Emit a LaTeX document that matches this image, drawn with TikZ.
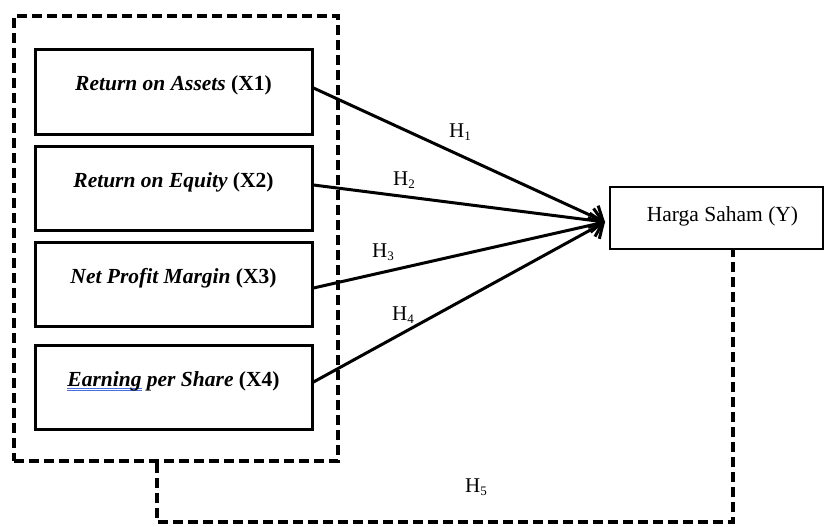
\documentclass[tikz,border=0pt]{standalone}
\usepackage{fontspec}
\setmainfont{Liberation Serif}
\usetikzlibrary{arrows.meta}
\definecolor{ulblue}{RGB}{70,110,220}
\newcommand{\spellul}[1]{\sbox0{#1}\rlap{\color{ulblue}\rule[-3pt]{\wd0}{0.9pt}}\rlap{\color{ulblue}\rule[-5pt]{\wd0}{0.9pt}}\usebox0}
\newcommand{\hsub}[1]{H\raisebox{-2.5pt}{\fontsize{13}{13}\selectfont #1}}
\tikzset{
  varbox/.style={draw, line width=3pt, minimum width=277pt, minimum height=84pt,
    text height=15pt, text depth=17pt, font=\fontsize{21.5}{24}\selectfont\bfseries, inner sep=0pt},
  ybox/.style={draw, line width=2.8pt, minimum width=213pt, minimum height=62pt,
    font=\fontsize{21.5}{24}\selectfont, text height=15pt, text depth=9pt, inner sep=0pt},
  grpbox/.style={draw, line width=3.2pt, dash pattern=on 10pt off 5pt, minimum width=324pt, minimum height=445pt, inner sep=0pt},
  dashline/.style={line width=3.2pt, dash pattern=on 10pt off 5pt},
  arr/.style={line width=3pt, -{Straight Barb[length=11pt,width=24pt,line width=3pt]}},
  hlab/.style={font=\fontsize{21}{24}\selectfont, inner sep=0pt}
}
\begin{document}
\begin{tikzpicture}[x=1pt,y=-1pt]
\useasboundingbox[fill=white] (0,0) rectangle (825,527);
\node[grpbox] (grp) at (176,238.5) {};
\node[varbox] (b1) at (173.5,92) {\itshape Return on Assets\/ \upshape(X1)};
\node[varbox] (b2) at (173.5,188) {\itshape Return on Equity\/ \upshape(X2)};
\node[varbox] (b3) at (173.5,284.5) {\itshape Net Profit Margin\/ \upshape(X3)};
\node[varbox] (b4) at (173.5,387) {\itshape\spellul{Earning} per Share\/ \upshape(X4)};
\node[ybox] (y) at (716.5,218) {\hspace*{12pt}Harga Saham (Y)};
\coordinate (tip) at (605,222);
\draw[arr] ([yshift=4pt]b1.east) -- (tip);
\draw[arr] ([yshift=3pt]b2.east) -- (tip);
\draw[arr] ([yshift=-3.5pt]b3.east) -- (tip);
\draw[arr] ([yshift=5pt]b4.east) -- (tip);
\node[hlab] (h1) at (460,132) {\hsub{1}};
\node[hlab] (h2) at (404,180) {\hsub{2}};
\node[hlab] (h3) at (383,252) {\hsub{3}};
\node[hlab] (h4) at (403,315) {\hsub{4}};
\node[hlab] (h5) at (476,487) {\hsub{5}};
\coordinate (low) at (0,522);
\coordinate (ga) at ([xshift=-19pt]grp.south);
\coordinate (yb) at ([xshift=16.5pt]y.south);
\draw[dashline] (ga) -- (ga |- low) -- (yb |- low) -- (yb);
\end{tikzpicture}
\end{document}
